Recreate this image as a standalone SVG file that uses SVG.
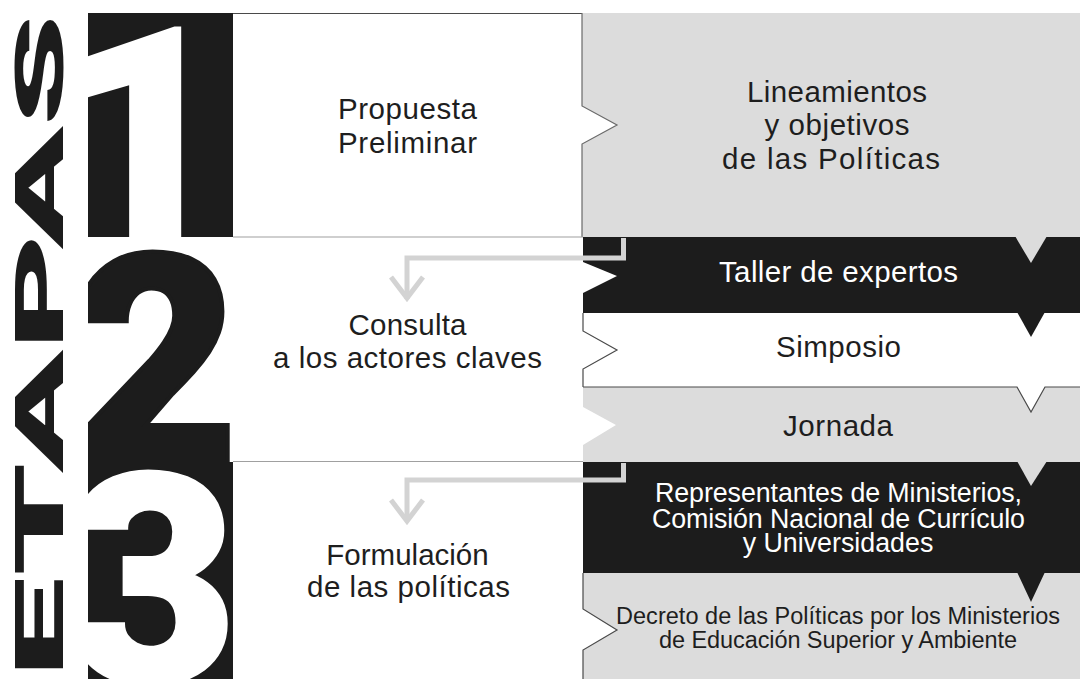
<svg xmlns="http://www.w3.org/2000/svg" width="1080" height="679" viewBox="0 0 1080 679">
<defs>
<style>
.blk{fill:#1c1c1c}
.gry{fill:#dcdcdc}
.wht{fill:#ffffff}
.edge{fill:none;stroke:#4a4a4a;stroke-width:1.2}
.soft{fill:none;stroke:#a0a0a0;stroke-width:1.2}
.conn{fill:none;stroke:#d3d3d3;stroke-width:5;stroke-linejoin:miter;stroke-miterlimit:8}
.t{font-family:"Liberation Sans",Arial,Helvetica,sans-serif;text-anchor:middle;fill:#1e1e1e}
.tw{fill:#ffffff}
.big{font-size:29.5px}
.mid{font-size:26.8px}
.sm{font-size:23.5px}
.digit{font-family:Roboto,"Liberation Sans",Arial,sans-serif;font-weight:900;font-size:292px;stroke-width:4;stroke-linejoin:miter}
</style>
<clipPath id="cp1"><rect x="88" y="13" width="145" height="224"/></clipPath>
<clipPath id="cp2"><rect x="88" y="237" width="145" height="225"/></clipPath>
<clipPath id="cp3"><rect x="88" y="462" width="145" height="217"/></clipPath>
</defs>
<rect x="0" y="0" width="1080" height="679" fill="#ffffff"/>

<g id="etapas-label">
<text transform="translate(63,678) rotate(-90)" x="0" y="0" textLength="664" lengthAdjust="spacingAndGlyphs" style="font-family:Roboto,'Liberation Sans',Arial,sans-serif;font-weight:900;font-size:66px;fill:#1c1c1c">ETAPAS</text>
</g>

<g id="bands">
<g id="band-lineamientos">
<rect class="gry" x="582" y="13" width="498" height="224"/>
</g>
<g id="band-taller">
<rect class="blk" x="583" y="237" width="497" height="76"/>
</g>
<g id="band-simposio">
<rect class="wht" x="583" y="313" width="497" height="74"/>
</g>
<g id="band-jornada">
<rect class="gry" x="583" y="387" width="497" height="75"/>
</g>
<g id="band-representantes">
<rect class="blk" x="583" y="462" width="497" height="111"/>
</g>
<g id="band-decreto">
<rect class="gry" x="583" y="573" width="497" height="106"/>
</g>
<polygon class="gry" points="1015,236 1047,236 1031,263"/>
<polygon class="blk" points="1017,312 1045,312 1031,337"/>
<polygon class="wht" points="1017,386 1045,386 1031,412"/>
<polygon class="gry" points="1017,461 1047,461 1031,486"/>
<polygon class="blk" points="1017,572 1045,572 1031,602"/>
</g>

<g id="stage-1-box">
<path class="wht" d="M233,13 H582 V106 L617,125 L582,144 V237 H233 Z"/>
<path class="edge" d="M233,13.5 H582"/>
<path class="edge" d="M582,13 V106 L617,125 L582,144 V237" style="stroke:#6a6a6a"/>
</g>
<g id="stage-2-box">
<path class="wht" d="M233,237 H583 V262 L617,276 L583,293 V331 L617,350 L583,369 V407 L616,425 L583,445 V461 H233 Z"/>
<path class="soft" d="M233,237 H583"/>
<path class="edge" d="M583,313 V331 L617,350 L583,369 V387"/>
<path class="edge" d="M583,387 H1017 L1031,412 L1045,387 H1080"/>
<path class="soft" d="M233,461.5 H583"/>
</g>
<g id="stage-3-box">
<path class="wht" d="M233,462 H583 V609 L617,630 L583,650 V679 H233 Z"/>
<path class="edge" d="M583,573 V609 L617,630 L583,650 V679"/>
</g>

<g id="num-1">
<rect class="blk" x="88" y="13" width="145" height="224"/>
<g clip-path="url(#cp1)"><text class="digit" x="60" y="236" fill="#ffffff" stroke="#ffffff">1</text></g>
</g>
<g id="num-2">
<rect class="wht" x="88" y="237" width="145" height="225"/>
<g clip-path="url(#cp2)"><text class="digit" x="70" y="462" fill="#1c1c1c" stroke="#1c1c1c">2</text></g>
</g>
<g id="num-3">
<rect class="blk" x="88" y="462" width="145" height="217"/>
<g clip-path="url(#cp3)"><text class="digit" x="68" y="682" fill="#ffffff" stroke="#ffffff">3</text></g>
</g>

<g id="connectors">
<path class="conn" d="M623.5,238 V258 H407 V299"/>
<path class="conn" d="M391,277 L407,298 L423,277"/>
<path class="conn" d="M623.5,463 V480 H407 V521"/>
<path class="conn" d="M391,500 L407,521 L423,500"/>
</g>

<g id="labels">
<text class="t big" x="407.5" y="119" textLength="139">Propuesta</text>
<text class="t big" x="407.5" y="152.5" textLength="139">Preliminar</text>
<text class="t big" x="837" y="101.5" textLength="180">Lineamientos</text>
<text class="t big" x="837" y="135" textLength="145">y objetivos</text>
<text class="t big" x="831" y="168.5" textLength="218">de las Políticas</text>
<text class="t big" x="407.5" y="335" textLength="118">Consulta</text>
<text class="t big" x="407.5" y="368.3" textLength="269">a los actores claves</text>
<text class="t big tw" x="838.5" y="282" textLength="239">Taller de expertos</text>
<text class="t big" x="838.5" y="357" textLength="125">Simposio</text>
<text class="t big" x="838" y="436" textLength="110">Jornada</text>
<text class="t big" x="407.5" y="565">Formulación</text>
<text class="t big" x="408.5" y="597" textLength="203">de las políticas</text>
<text class="t mid tw" x="838.5" y="502" textLength="367">Representantes de Ministerios,</text>
<text class="t mid tw" x="838.5" y="528" textLength="373">Comisión Nacional de Currículo</text>
<text class="t mid tw" x="838" y="552">y Universidades</text>
<text class="t sm" x="838" y="624" textLength="444">Decreto de las Políticas por los Ministerios</text>
<text class="t sm" x="838" y="648" textLength="358">de Educación Superior y Ambiente</text>
</g>
</svg>
